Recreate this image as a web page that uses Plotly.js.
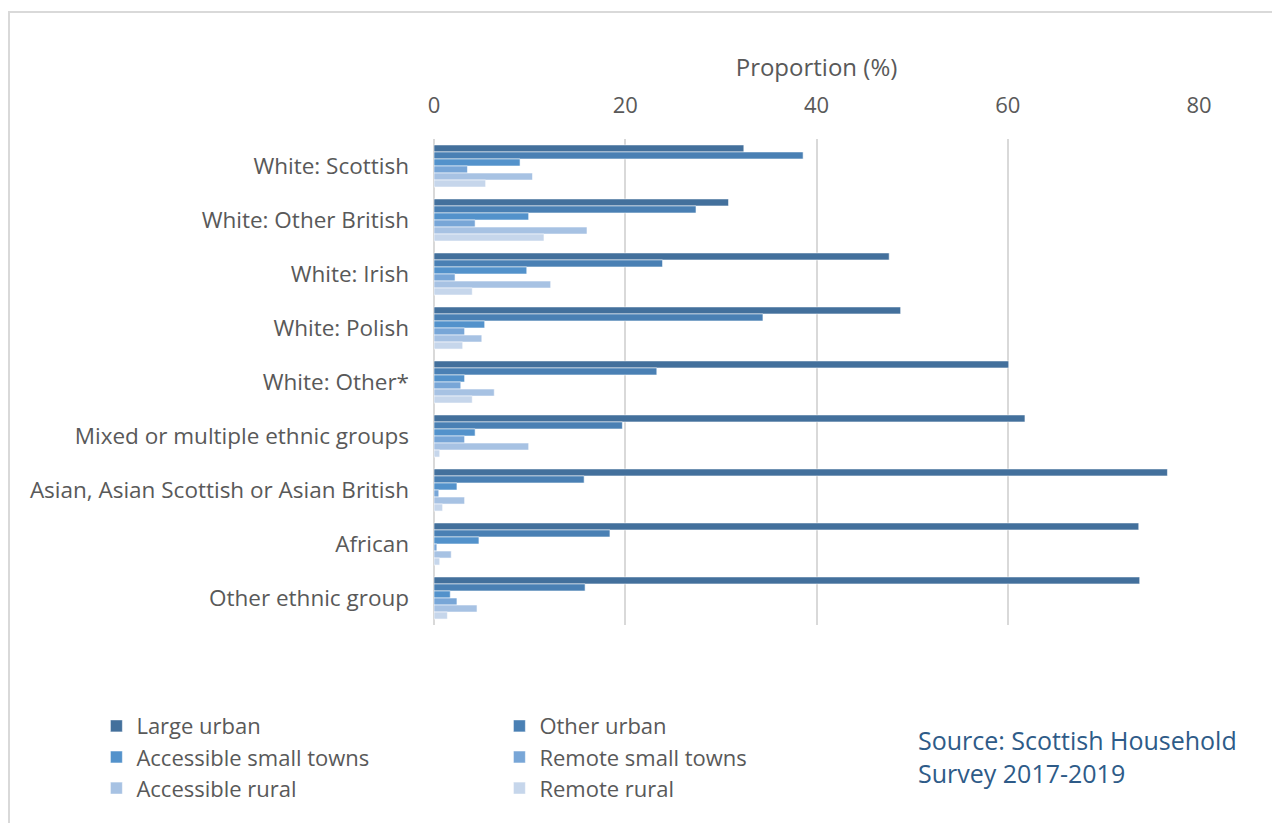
<!DOCTYPE html>
<html>
<head>
<meta charset="utf-8">
<script src="https://cdn.plot.ly/plotly-3.0.1.min.js"></script>
<style>
html,body{margin:0;padding:0;background:#fff;}
#wrap{position:relative;width:1272px;height:823px;overflow:hidden;}
#chart{position:absolute;left:0;top:0;width:1272px;height:823px;}
#frame{position:absolute;left:8px;top:11px;width:1300px;height:850px;border-left:2px solid #d9d9d9;border-top:2px solid #d9d9d9;pointer-events:none;}
</style>
</head>
<body>
<div id="wrap"><div id="chart"></div><div id="frame"></div></div>
<script>
const categories = ["White: Scottish","White: Other British","White: Irish","White: Polish","White: Other*","Mixed or multiple ethnic groups","Asian, Asian Scottish or Asian British","African","Other ethnic group"];
const largeUrban        = [32.4, 30.8, 47.6, 48.8, 60.1, 61.8, 76.7, 73.7, 73.8];
const otherUrban        = [38.6, 27.4, 23.9, 34.4, 23.3, 19.7, 15.7, 18.4, 15.8];
const accessibleTowns   = [9.0, 9.9, 9.7, 5.3, 3.2, 4.3, 2.4, 4.7, 1.7];
const remoteTowns       = [3.5, 4.3, 2.2, 3.2, 2.8, 3.2, 0.5, 0.3, 2.4];
const accessibleRural   = [10.3, 16.0, 12.2, 5.0, 6.3, 9.9, 3.2, 1.8, 4.5];
const remoteRural       = [5.4, 11.5, 4.0, 3.0, 4.0, 0.6, 0.9, 0.6, 1.4];
const seriesNames = ["Large urban","Other urban","Accessible small towns","Remote small towns","Accessible rural","Remote rural"];
const xTicks = [0, 20, 40, 60, 80];

const seriesValues = [largeUrban, otherUrban, accessibleTowns, remoteTowns, accessibleRural, remoteRural];
const colors = ["#43709c","#4a80b4","#5392cb","#78a6d7","#a7c2e3","#c6d6eb"];
const legendIds = ["legend","legend","legend2","legend2","legend3","legend3"];

const FONT = "Open Sans, sans-serif";
const GREY = "#595959";

const traces = seriesNames.map((name, i) => ({
  type: "bar",
  orientation: "h",
  name: name,
  y: categories,
  x: seriesValues[i],
  marker: {color: colors[i], line: {color: "rgba(255,255,255,0.55)", width: 1}},
  legend: legendIds[i],
  hoverinfo: "x+y+name"
}));

const legendBase = {
  orientation: "h",
  x: -0.4413, xanchor: "left",
  yanchor: "middle",
  entrywidth: 358, entrywidthmode: "pixels",
  font: {family: FONT, size: 22, color: GREY},
  bgcolor: "rgba(0,0,0,0)",
  itemclick: false, itemdoubleclick: false
};

const layout = {
  width: 1272, height: 823,
  margin: {l: 433.5, r: 73, t: 139, b: 198},
  paper_bgcolor: "#fff", plot_bgcolor: "#fff",
  barmode: "group",
  bargap: 0.22, bargroupgap: 0,
  font: {family: FONT, color: GREY},
  xaxis: {
    side: "top",
    range: [0, 80],
    tickvals: xTicks,
    ticktext: xTicks.map(String),
    showgrid: true, gridcolor: "#d9d9d9", gridwidth: 2,
    zeroline: true, zerolinecolor: "#d9d9d9", zerolinewidth: 2,
    showline: false, ticks: "",
    tickfont: {family: FONT, size: 22, color: GREY},
    ticklabelstandoff: 21,
    title: {text: "Proportion (%)", font: {family: FONT, size: 24, color: GREY}, standoff: 5},
    fixedrange: true
  },
  yaxis: {
    autorange: "reversed",
    showgrid: false, zeroline: false, showline: false, ticks: "",
    tickfont: {family: FONT, size: 22.5, color: GREY},
    ticklabelstandoff: 24,
    fixedrange: true
  },
  showlegend: true,
  legend: Object.assign({}, legendBase, {y: -0.208}),
  legend2: Object.assign({}, legendBase, {y: -0.272}),
  legend3: Object.assign({}, legendBase, {y: -0.336}),
  annotations: [{
    xref: "paper", yref: "paper",
    x: 0.630, y: -0.271, xanchor: "left", yanchor: "middle", align: "left",
    showarrow: false,
    text: "Source: Scottish Household<br>Survey 2017-2019",
    font: {family: FONT, size: 25, color: "#2e5b88"}
  }]
};

Plotly.newPlot("chart", traces, layout, {displayModeBar: false, staticPlot: false});
</script>
</body>
</html>
